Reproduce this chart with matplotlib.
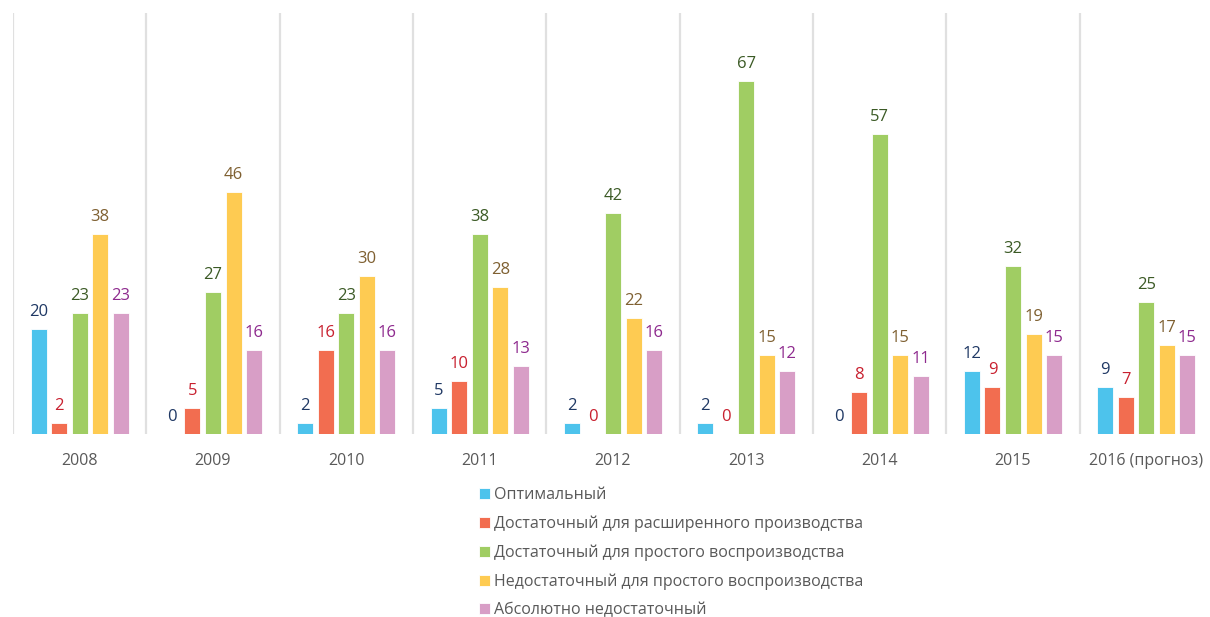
import matplotlib
matplotlib.use("Agg")
import matplotlib.pyplot as plt
import numpy as np

plt.rcParams['font.family'] = ['Open Sans', 'DejaVu Sans']

categories = ["2008", "2009", "2010", "2011", "2012", "2013", "2014", "2015", "2016 (прогноз)"]
series_names = [
    "Оптимальный",
    "Достаточный для расширенного производства",
    "Достаточный для простого воспроизводства",
    "Недостаточный для простого воспроизводства",
    "Абсолютно недостаточный",
]
optimal = [20, 0, 2, 5, 2, 2, 0, 12, 9]
sufficient_ext = [2, 5, 16, 10, 0, 0, 8, 9, 7]
sufficient_simple = [23, 27, 23, 38, 42, 67, 57, 32, 25]
insufficient_simple = [38, 46, 30, 28, 22, 15, 15, 19, 17]
absolutely_insufficient = [23, 16, 16, 13, 16, 12, 11, 15, 15]

series = [optimal, sufficient_ext, sufficient_simple, insufficient_simple, absolutely_insufficient]
bar_colors = ["#4DC3EC", "#F26D50", "#A0CD63", "#FECB52", "#D89EC6"]
label_colors = ["#1F3864", "#C8202F", "#3B5A25", "#7F6031", "#8E2A8E"]

W, H = 1210, 617
fig = plt.figure(figsize=(W / 100, H / 100), dpi=100)
ax = fig.add_axes([13 / W, (H - 434) / H, 1200 / W, 421 / H])

x = np.arange(len(categories))
step = 0.154
width = 0.12
for i, (vals, c, lc, name) in enumerate(zip(series, bar_colors, label_colors, series_names)):
    offs = (i - 2) * step
    bars = ax.bar(x + offs, vals, width=width, color=c, edgecolor='white', linewidth=0.6, label=name, zorder=3)
    ax.bar_label(bars, labels=[str(v) for v in vals], padding=6.5, color=lc, fontsize=12)

ax.set_xlim(-0.5, len(categories) - 0.5)
ax.set_ylim(0, 80)
ax.set_xticks(x)
ax.set_xticklabels(categories, color="#595959", fontsize=11.5)
ax.set_xticks(np.arange(len(categories) + 1) - 0.5, minor=True)
ax.tick_params(axis='x', which='both', length=0, pad=14)
ax.grid(axis='x', which='minor', color="#E0E0E0", linewidth=1.6, zorder=0)
ax.grid(axis='x', which='major', visible=False)
ax.set_yticks([])
for s in ax.spines.values():
    s.set_visible(False)

fig.legend(loc='upper left', bbox_to_anchor=(471 / W, (H - 479) / H), frameon=False,
           fontsize=11.5, handlelength=0.7, handleheight=0.7, handletextpad=0.25,
           labelspacing=0.78, borderpad=0, labelcolor="#595959")

fig.savefig("out.png", dpi=100)
